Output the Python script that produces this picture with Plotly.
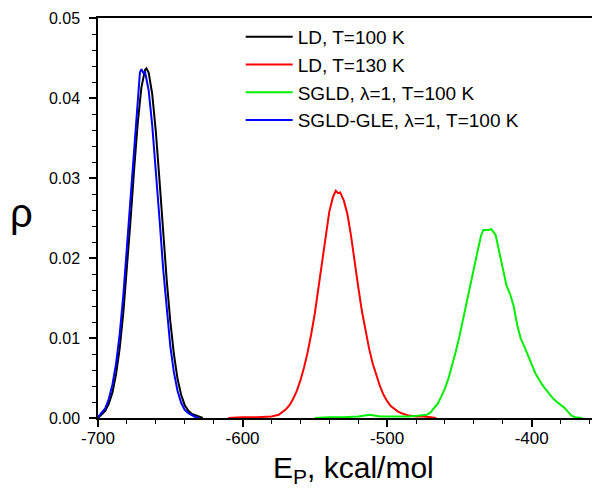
import plotly.graph_objects as go

# LD, T=100 K
ld100_E = [-700, -697.5, -695, -692.5, -690, -687.5, -685, -682.5, -680, -677.5, -675, -672.5, -670, -667.5, -666.5, -665,
           -662.5, -660, -657.5, -655, -652.5, -650, -647.5, -645, -642.5, -640, -637.5, -635, -632.5, -630, -627.5]
ld100_rho = [0.0000, 0.0005, 0.0009, 0.0018, 0.0032, 0.0055, 0.0087, 0.0131, 0.0185, 0.0247, 0.0311, 0.0369, 0.0413, 0.0435, 0.0437, 0.0432,
             0.0405, 0.0358, 0.0298, 0.0234, 0.0173, 0.0121, 0.0080, 0.0049, 0.0029, 0.0016, 0.0009, 0.0005, 0.0003, 0.0001, 0.0000]

# LD, T=130 K
ld130_E = [-610, -600, -590, -580, -575, -572.5, -570, -567.5, -565, -562.5, -560, -557.5, -555, -552.5, -550, -547.5, -545,
           -542.5, -540, -537.5, -535.5, -534, -532.5, -530, -527.5, -525, -522.5, -520, -517.5, -515, -512.5, -510, -507.5,
           -505, -502.5, -500, -497.5, -495, -492.5, -490, -487.5, -485, -480, -475, -470, -466]
ld130_rho = [0.0000, 0.0001, 0.0001, 0.0002, 0.0004, 0.0007, 0.0011, 0.0016, 0.0024, 0.0034, 0.0047, 0.0063, 0.0082, 0.0105, 0.0131, 0.0163, 0.0196,
             0.0229, 0.0258, 0.0276, 0.0284, 0.0281, 0.0282, 0.0272, 0.0255, 0.0228, 0.0199, 0.0164, 0.0134, 0.0110, 0.0087, 0.0068, 0.0053,
             0.0040, 0.0029, 0.0021, 0.0015, 0.0011, 0.0008, 0.0006, 0.0004, 0.0003, 0.0002, 0.0002, 0.0001, 0.0000]

# SGLD, lambda=1, T=100 K
sgld_E = [-550, -540, -530, -520, -512, -505, -495, -485, -477.5, -472.5, -470, -467.5, -465, -462.5, -460, -457.5, -455,
          -452.5, -450, -447.5, -445, -442.5, -440, -437.5, -435, -433.5, -430, -428, -425, -422.5, -420, -417.5, -415,
          -412.5, -410, -407.5, -405, -402.5, -400, -397.5, -395, -392.5, -390, -387.5, -385, -382.5, -380, -377.5, -375,
          -372.5, -370, -365]
sgld_rho = [0.0000, 0.0001, 0.0001, 0.0002, 0.0004, 0.0002, 0.0002, 0.0002, 0.0003, 0.0004, 0.0007, 0.0012, 0.0018, 0.0027, 0.0037, 0.0050, 0.0066,
            0.0083, 0.0102, 0.0124, 0.0146, 0.0167, 0.0190, 0.0208, 0.0228, 0.0235, 0.0235, 0.0236, 0.0229, 0.0207, 0.0186, 0.0166, 0.0155,
            0.0140, 0.0116, 0.0099, 0.0089, 0.0079, 0.0067, 0.0056, 0.0048, 0.0041, 0.0035, 0.0029, 0.0024, 0.0020, 0.0017, 0.0013, 0.0008,
            0.0003, 0.0001, 0.0000]

# SGLD-GLE, lambda=1, T=100 K
gle_E = [-700, -697.5, -695, -692.5, -690, -687.5, -685, -682.5, -680, -677.5, -675, -672.5, -671, -670, -668.5, -667.5,
         -665, -662.5, -660, -657.5, -655, -652.5, -650, -647.5, -645, -642.5, -640, -637.5, -635, -632.5, -630]
gle_rho = [0.0001, 0.0006, 0.0012, 0.0024, 0.0042, 0.0068, 0.0105, 0.0153, 0.0212, 0.0275, 0.0338, 0.0398, 0.0432, 0.0436, 0.0431, 0.0433,
           0.0410, 0.0366, 0.0312, 0.0250, 0.0188, 0.0135, 0.0090, 0.0057, 0.0034, 0.0019, 0.0010, 0.0006, 0.0003, 0.0001, 0.0000]

x_tickvals = [-700, -600, -500, -400]
x_ticktext = ["-700", "-600", "-500", "-400"]
y_tickvals = [0.00, 0.01, 0.02, 0.03, 0.04, 0.05]
y_ticktext = ["0.00", "0.01", "0.02", "0.03", "0.04", "0.05"]

names = ["LD, T=100 K", "LD, T=130 K", "SGLD, \u03bb=1, T=100 K", "SGLD-GLE, \u03bb=1, T=100 K"]
colors = ["#000000", "#ff0000", "#00ee00", "#0000ff"]
xs = [ld100_E, ld130_E, sgld_E, gle_E]
ys = [ld100_rho, ld130_rho, sgld_rho, gle_rho]

FONT = "Liberation Sans, Arial, sans-serif"

fig = go.Figure()
for i, (x, y, n, c) in enumerate(zip(xs, ys, names, colors)):
    fig.add_trace(go.Scatter(x=x, y=y, mode="lines", name=n, legendgroup=str(i),
                             line=dict(color=c, width=2)))

fig.update_layout(
    width=600, height=489,
    margin=dict(l=90, r=2, t=8, b=79),
    paper_bgcolor="white", plot_bgcolor="white",
    font=dict(family=FONT, color="black"),
    showlegend=True,
    legend=dict(x=0.282, y=1.0, xanchor="left", yanchor="top",
                font=dict(size=19, family=FONT), bgcolor="rgba(0,0,0,0)",
                tracegroupgap=2, itemwidth=47, traceorder="normal"),
    xaxis=dict(range=[-700, -350], tickmode="array", tickvals=x_tickvals, ticktext=x_ticktext,
               ticks="outside", ticklen=7, tickwidth=1.5,
               tickcolor="black", showline=True, linecolor="black", linewidth=1.5, mirror=True,
               showgrid=False, zeroline=False, tickfont=dict(size=17, family=FONT), ticklabelstandoff=-3,
               ticklabeloverflow="allow",
               minor=dict(dtick=20, tick0=-700, ticks="outside", ticklen=4, tickwidth=1.2, tickcolor="black", showgrid=False)),
    yaxis=dict(range=[0, 0.05], tickmode="array", tickvals=y_tickvals, ticktext=y_ticktext,
               ticks="outside", ticklen=7, tickwidth=1.5,
               tickcolor="black", showline=True, linecolor="black", linewidth=1.5, mirror=True,
               showgrid=False, zeroline=False, tickfont=dict(size=16, family=FONT),
               ticklabelstandoff=6, ticklabeloverflow="allow",
               minor=dict(dtick=0.002, tick0=0, ticks="outside", ticklen=4, tickwidth=1.2, tickcolor="black", showgrid=False)),
    annotations=[
        dict(text="\u03c1", xref="paper", yref="paper", x=(0 - 90) / 508, y=(410 - 204) / 402,
             xanchor="left", yanchor="middle", showarrow=False, font=dict(size=40, family=FONT)),
        dict(text="E<sub>P</sub>, kcal/mol", xref="paper", yref="paper", x=(347 - 90) / 508, y=(410 - 482) / 402,
             xanchor="center", yanchor="bottom", showarrow=False, font=dict(size=30, family=FONT)),
    ],
)

fig.write_html("out.html")
